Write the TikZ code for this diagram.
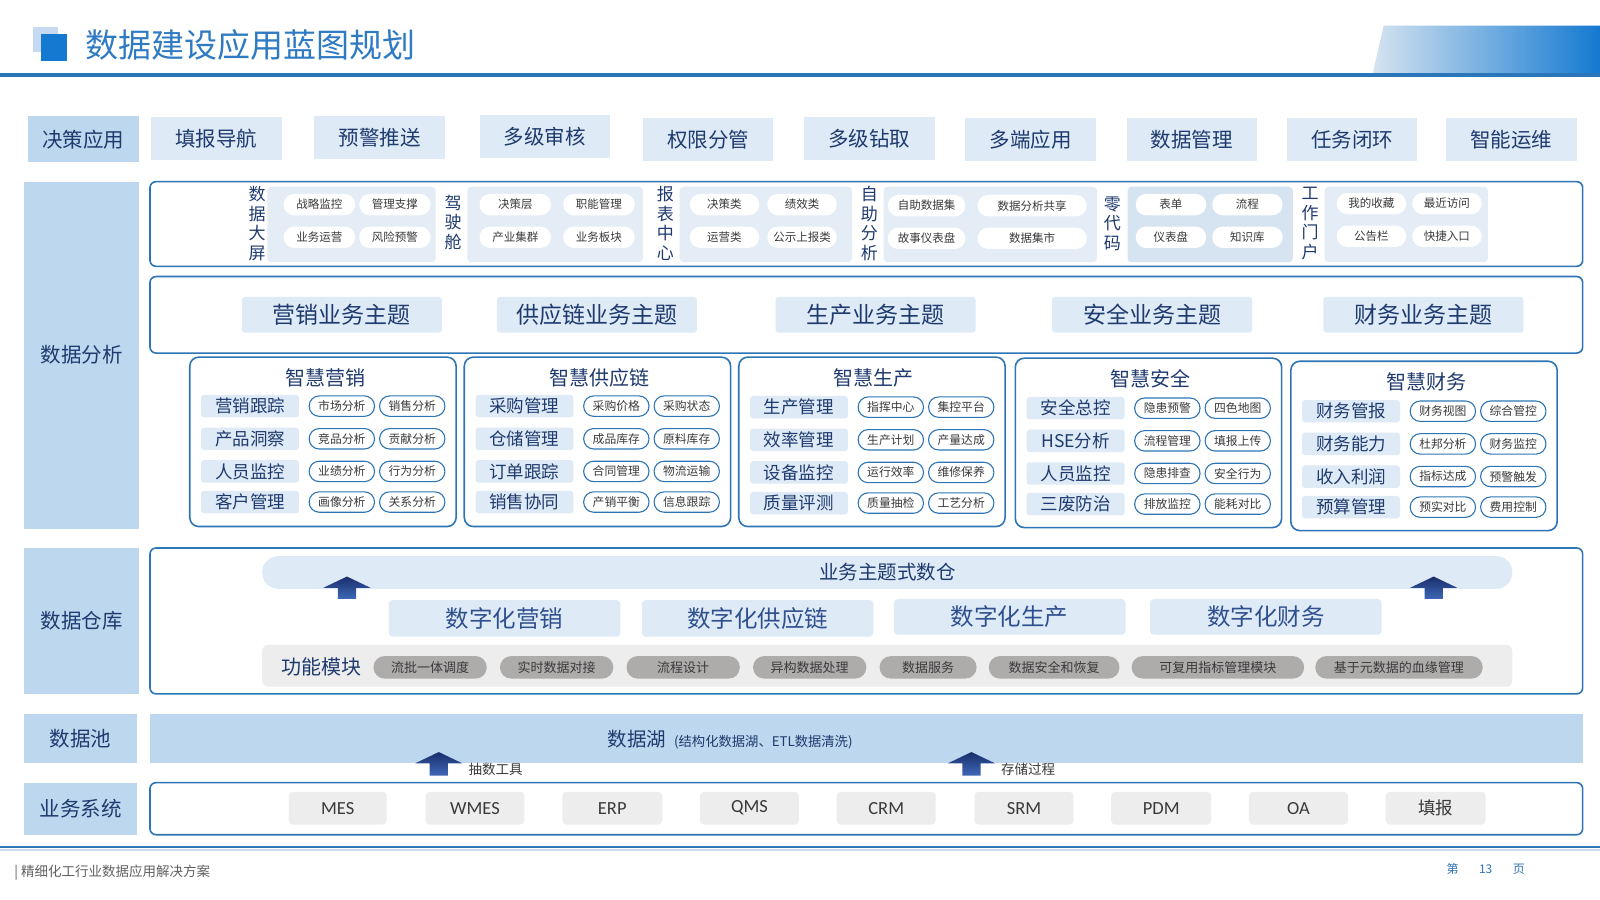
\documentclass[tikz,border=0pt]{standalone}
\usepackage{fontspec}
\setmainfont{Noto Sans CJK SC}
\newfontfamily\latinfont{Carlito}
\usetikzlibrary{fit}
\definecolor{navy}{HTML}{1F3A6E}
\definecolor{lblbg}{HTML}{BDD7EE}
\definecolor{boxbg}{HTML}{DEEBF7}
\definecolor{bord}{HTML}{2E75B6}
\definecolor{greybg}{HTML}{EDEDED}
\definecolor{greypill}{HTML}{AEABAB}
\definecolor{dgrey}{HTML}{3A3A3A}
\definecolor{titleblue}{HTML}{2E7BC4}
\definecolor{grpbg}{HTML}{E4ECF6}
\definecolor{grpbgb}{HTML}{D6E3F1}
\definecolor{digblue}{HTML}{2F4F8F}
\definecolor{arrtop}{HTML}{1A2E6B}
\definecolor{arrbot}{HTML}{3E68B8}
\definecolor{sqlight}{HTML}{C5D9F1}
\definecolor{sqdark}{HTML}{1479D1}
\tikzset{
 bxbase/.style={inner sep=0pt, outer sep=0pt},
 lbl/.style={bxbase, fill=lblbg},
 lbltxt/.style={font=\fontsize{20.5}{22}\selectfont, text=navy},
 item/.style={bxbase, fill=boxbg},
 itemtxt/.style={font=\fontsize{20.5}{22}\selectfont, text=navy},
 frame/.style={bxbase, draw=bord, line width=1.6pt, rounded corners=6pt},
 grp/.style={bxbase, fill=grpbg, rounded corners=4pt},
 grpb/.style={bxbase, fill=grpbgb, rounded corners=4pt},
 vtxt/.style={inner sep=0pt, align=center, font=\fontsize{17}{19.5}\selectfont, text=navy},
 wpill/.style={bxbase, fill=white, rounded corners=10.5pt},
 wpilltxt/.style={font=\fontsize{11.5}{12}\selectfont, text=dgrey},
 theme/.style={bxbase, fill=boxbg, rounded corners=3pt},
 themetxt/.style={font=\fontsize{23}{24}\selectfont, text=navy},
 module/.style={bxbase, draw=bord, line width=1.6pt, rounded corners=9pt, fill=white},
 modtitle/.style={inner sep=0pt, font=\fontsize{20}{21}\selectfont, text=navy},
 rowlbl/.style={bxbase, fill=boxbg, rounded corners=3pt},
 rowlbltxt/.style={font=\fontsize{17.5}{18}\selectfont, text=navy},
 bpill/.style={bxbase, draw=bord, line width=1.1pt, fill=white, rounded corners=10pt},
 bpilltxt/.style={font=\fontsize{11.8}{12}\selectfont, text=dgrey},
 dwbar/.style={bxbase, fill=boxbg, rounded corners=16pt},
 dwbartxt/.style={font=\fontsize{19.5}{20}\selectfont, text=navy},
 dig/.style={bxbase, fill=boxbg, rounded corners=4pt},
 digtxt/.style={font=\fontsize{23.5}{24}\selectfont, text=digblue},
 fmbar/.style={bxbase, fill=greybg, rounded corners=6pt},
 fmtxt/.style={inner sep=0pt, font=\fontsize{20}{21}\selectfont, text=navy},
 gpill/.style={bxbase, fill=greypill, rounded corners=11pt},
 gpilltxt/.style={font=\fontsize{13}{14}\selectfont, text=dgrey},
 lakebar/.style={bxbase, fill=lblbg},
 sysitem/.style={bxbase, fill=greybg, rounded corners=4pt},
 sysitemtxt/.style={font=\latinfont\fontsize{18.5}{19}\selectfont, text=dgrey},
 sysitemcjk/.style={bxbase, fill=greybg, rounded corners=4pt},
 sysitemcjktxt/.style={font=\fontsize{17.5}{18}\selectfont, text=dgrey},
 smalltxt/.style={inner sep=0pt, font=\fontsize{13.5}{14}\selectfont, text=dgrey},
}
\newcommand\bx[7]{\node[#6, fit={(#2,#3) (#4,#5)}] (#1) {};\node[#6txt] (#1t) at (#1.center) {#7};}
\newcommand\fr[6]{\node[#6, fit={(#2,#3) (#4,#5)}] (#1) {};}
\newcommand\modbox[4]{\fr{#1}{#2}{#3}{#2+261}{#3+166}{module}\node[modtitle] (#1t) at (#2+132.5,#3+20) {#4};}
\newcommand\modrow[6]{%
 \bx{#1l}{#2+11}{#3-11}{#2+107}{#3+11}{rowlbl}{#4}%
 \bx{#1a}{#2+117}{#3-10}{#2+181}{#3+10}{bpill}{#5}%
 \bx{#1b}{#2+186}{#3-10}{#2+250}{#3+10}{bpill}{#6}}
\newcommand\uparr[4]{\shade[top color=arrtop, bottom color=arrbot] (#1,#2) -- (#1+23,#3) -- (#1+9,#3) -- (#1+9,#4) -- (#1-9,#4) -- (#1-9,#3) -- (#1-23,#3) -- cycle;}
\begin{document}
\begin{tikzpicture}[x=1.0204pt,y=-1.0204pt]
\useasboundingbox (0,0) rectangle (1568,882);
\fill[white] (0,0) rectangle (1568,882);
% header
\fill[sqlight] (32,26) rectangle (57,51);
\fill[sqdark] (40,33) rectangle (66,60);
\node[anchor=west, inner sep=0pt, font=\fontsize{33}{34}\selectfont, text=titleblue] (title) at (84,44) {数据建设应用蓝图规划};
\shade[left color=white!80!bord, middle color=bord!80!white, right color=sqdark] (1356,25) -- (1568,25) -- (1568,73) -- (1345,73) -- cycle;
\draw[line width=4pt, draw=bord!90!sqdark] (0,73.5) -- (1568,73.5);
% row 1
\bx{dec}{27}{114}{136}{159}{lbl}{决策应用}
\bx{a1}{148}{115}{276}{157}{item}{填报导航}
\bx{a2}{308}{114}{436}{156}{item}{预警推送}
\bx{a3}{470}{113}{598}{155}{item}{多级审核}
\bx{a4}{630}{116}{758}{158}{item}{权限分管}
\bx{a5}{788}{115}{916}{157}{item}{多级钻取}
\bx{a6}{946}{116}{1074}{158}{item}{多端应用}
\bx{a7}{1104}{116}{1232}{158}{item}{数据管理}
\bx{a8}{1261}{116}{1389}{158}{item}{任务闭环}
\bx{a9}{1417}{116}{1545}{158}{item}{智能运维}
% left labels
\bx{ana}{24}{178}{136}{518}{lbl}{数据分析}
\bx{wh}{24}{537}{136}{680}{lbl}{数据仓库}
\bx{pool}{24}{700}{134}{748}{lbl}{数据池}
\bx{sys}{24}{767}{134}{818}{lbl}{业务系统}
% top frame
\fr{topf}{147}{178}{1551}{261}{frame}
\fr{g1}{262}{183}{427}{257}{grp}
\node[vtxt] (v1) at (252,219) {数\\据\\大\\屏};
\bx{g1a}{278}{190}{348}{211}{wpill}{战略监控}
\bx{g1b}{352}{190}{422}{211}{wpill}{管理支撑}
\bx{g1c}{278}{222}{348}{243}{wpill}{业务运营}
\bx{g1d}{352}{222}{422}{243}{wpill}{风险预警}
\fr{g2}{458}{183}{630}{257}{grp}
\node[vtxt] (v2) at (444,218) {驾\\驶\\舱};
\bx{g2a}{470}{190}{540}{211}{wpill}{决策层}
\bx{g2b}{552}{190}{622}{211}{wpill}{职能管理}
\bx{g2c}{470}{222}{540}{243}{wpill}{产业集群}
\bx{g2d}{552}{222}{622}{243}{wpill}{业务板块}
\fr{g3}{666}{183}{835}{257}{grp}
\node[vtxt] (v3) at (652,219) {报\\表\\中\\心};
\bx{g3a}{676}{190}{744}{211}{wpill}{决策类}
\bx{g3b}{752}{190}{820}{211}{wpill}{绩效类}
\bx{g3c}{676}{222}{744}{243}{wpill}{运营类}
\bx{g3d}{752}{222}{820}{243}{wpill}{公示上报类}
\fr{g4}{866}{183}{1075}{257}{grp}
\node[vtxt] (v4) at (852,219) {自\\助\\分\\析};
\bx{g4a}{870}{191}{946}{212}{wpill}{自助数据集}
\bx{g4b}{958}{191}{1065}{212}{wpill}{数据分析共享}
\bx{g4c}{870}{223}{946}{244}{wpill}{故事仪表盘}
\bx{g4d}{958}{223}{1065}{244}{wpill}{数据集市}
\fr{g5}{1105}{183}{1267}{257}{grpb}
\node[vtxt] (v5) at (1090,219) {零\\代\\码};
\bx{g5a}{1113}{190}{1182}{211}{wpill}{表单}
\bx{g5b}{1188}{190}{1257}{211}{wpill}{流程}
\bx{g5c}{1113}{222}{1182}{243}{wpill}{仪表盘}
\bx{g5d}{1188}{222}{1257}{243}{wpill}{知识库}
\fr{g6}{1298}{183}{1458}{257}{grp}
\node[vtxt] (v6) at (1284,219) {工\\作\\门\\户};
\bx{g6a}{1310}{189}{1378}{210}{wpill}{我的收藏}
\bx{g6b}{1384}{189}{1452}{210}{wpill}{最近访问}
\bx{g6c}{1310}{221}{1378}{242}{wpill}{公告栏}
\bx{g6d}{1384}{221}{1452}{242}{wpill}{快捷入口}
% themes
\fr{thf}{147}{271}{1551}{346}{frame}
\bx{t1}{237}{291}{433}{326}{theme}{营销业务主题}
\bx{t2}{487}{291}{683}{326}{theme}{供应链业务主题}
\bx{t3}{760}{291}{956}{326}{theme}{生产业务主题}
\bx{t4}{1031}{291}{1227}{326}{theme}{安全业务主题}
\bx{t5}{1297}{291}{1493}{326}{theme}{财务业务主题}
% modules
\modbox{ma}{186}{350}{智慧营销}
\modrow{ma1}{186}{398}{营销跟踪}{市场分析}{销售分析}
\modrow{ma2}{186}{430}{产品洞察}{竞品分析}{贡献分析}
\modrow{ma3}{186}{462}{人员监控}{业绩分析}{行为分析}
\modrow{ma4}{186}{492}{客户管理}{画像分析}{关系分析}
\modbox{mb}{455}{350}{智慧供应链}
\modrow{mb1}{455}{398}{采购管理}{采购价格}{采购状态}
\modrow{mb2}{455}{430}{仓储管理}{成品库存}{原料库存}
\modrow{mb3}{455}{462}{订单跟踪}{合同管理}{物流运输}
\modrow{mb4}{455}{492}{销售协同}{产销平衡}{信息跟踪}
\modbox{mc}{724}{350}{智慧生产}
\modrow{mc1}{724}{399}{生产管理}{指挥中心}{集控平台}
\modrow{mc2}{724}{431}{效率管理}{生产计划}{产量达成}
\modrow{mc3}{724}{463}{设备监控}{运行效率}{维修保养}
\modrow{mc4}{724}{493}{质量评测}{质量抽检}{工艺分析}
\modbox{md}{995}{351}{智慧安全}
\modrow{md1}{995}{400}{安全总控}{隐患预警}{四色地图}
\modrow{md2}{995}{432}{HSE分析}{流程管理}{填报上传}
\modrow{md3}{995}{464}{人员监控}{隐患排查}{安全行为}
\modrow{md4}{995}{494}{三废防治}{排放监控}{能耗对比}
\modbox{me}{1265}{354}{智慧财务}
\modrow{me1}{1265}{403}{财务管报}{财务视图}{综合管控}
\modrow{me2}{1265}{435}{财务能力}{杜邦分析}{财务监控}
\modrow{me3}{1265}{467}{收入利润}{指标达成}{预警触发}
\modrow{me4}{1265}{497}{预算管理}{预实对比}{费用控制}
% warehouse
\fr{whf}{147}{537}{1551}{680}{frame}
\bx{dw}{257}{545}{1482}{577}{dwbar}{业务主题式数仓}
\uparr{340}{565}{576}{587}
\uparr{1405}{565}{576}{587}
\bx{d1}{381}{588}{608}{624}{dig}{数字化营销}
\bx{d2}{629}{588}{856}{624}{dig}{数字化供应链}
\bx{d3}{876}{587}{1103}{622}{dig}{数字化生产}
\bx{d4}{1127}{587}{1354}{622}{dig}{数字化财务}
\fr{fm}{257}{632}{1482}{673}{fmbar}
\node[fmtxt] (fmt) at (315,654) {功能模块};
\bx{m1}{366}{643}{477}{665}{gpill}{流批一体调度}
\bx{m2}{490}{643}{601}{665}{gpill}{实时数据对接}
\bx{m3}{614}{643}{725}{665}{gpill}{流程设计}
\bx{m4}{738}{643}{849}{665}{gpill}{异构数据处理}
\bx{m5}{862}{643}{957}{665}{gpill}{数据服务}
\bx{m6}{969}{643}{1097}{665}{gpill}{数据安全和恢复}
\bx{m7}{1109}{643}{1278}{665}{gpill}{可复用指标管理模块}
\bx{m8}{1289}{643}{1453}{665}{gpill}{基于元数据的血缘管理}
% data lake
\fr{lake}{147}{700}{1551}{748}{lakebar}
\node[inner sep=0pt, text=navy] (lakt) at (715.5,725) {{\fontsize{19.5}{20}\selectfont 数据湖}\hspace{8pt}{\fontsize{13.3}{14}\selectfont (结构化数据湖、ETL数据清洗)}};
\uparr{430}{737}{748}{760}
\uparr{952}{737}{748}{760}
\node[smalltxt, anchor=west] (lb1) at (459,754) {抽数工具};
\node[smalltxt, anchor=west] (lb2) at (981,754) {存储过程};
% business systems
\fr{sysf}{147}{767}{1551}{818}{frame}
\bx{s1}{283}{776}{379}{808}{sysitem}{MES}
\bx{s2}{417}{776}{514}{808}{sysitem}{WMES}
\bx{s3}{551}{776}{649}{808}{sysitem}{ERP}
\bx{s4}{686}{776}{783}{808}{sysitem}{QMS}
\bx{s5}{820}{776}{917}{808}{sysitem}{CRM}
\bx{s6}{955}{776}{1052}{808}{sysitem}{SRM}
\bx{s7}{1089}{776}{1187}{808}{sysitem}{PDM}
\bx{s8}{1224}{776}{1321}{808}{sysitem}{OA}
\bx{s9}{1358}{776}{1456}{808}{sysitemcjk}{填报}
% footer
\draw[line width=2.5pt, draw=bord] (0,830) -- (1568,830);
\draw[line width=2pt, draw=bord!25] (0,832.5) -- (1568,832.5);
\node[anchor=west, inner sep=0pt, font=\fontsize{13.5}{14}\selectfont, text=dgrey!80] (foot) at (14,855) {| 精细化工行业数据应用解决方案};
\node[inner sep=0pt, font=\fontsize{12}{13}\selectfont, text=bord] (page) at (1456,852) {第\hspace{1.7em}13\hspace{1.7em}页};
\end{tikzpicture}
\end{document}
